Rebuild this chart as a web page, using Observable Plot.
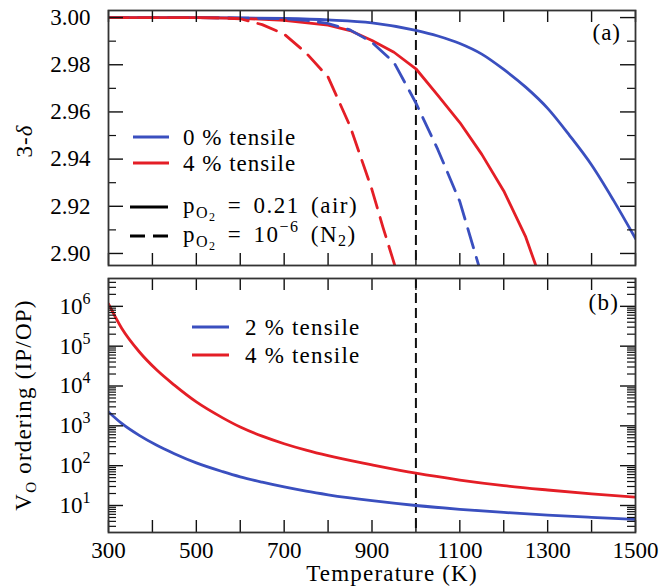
<!DOCTYPE html>
<html><head><meta charset="utf-8">
<script src="https://cdn.jsdelivr.net/npm/d3@7"></script>
<script src="https://cdn.jsdelivr.net/npm/@observablehq/plot@0.6"></script>
<style>
body{margin:0;background:#fff;}
#chart{position:relative;width:671px;height:587px;font-family:'Liberation Serif',serif;}
#chart svg{position:absolute;left:0;overflow:visible;}
</style></head><body><div id="chart"></div>
<script>
// ---------- Panel (a): 3-delta vs temperature ----------
const blueAirT = [300,400,500,600,700,800,900,1000,1050,1100,1150,1200,1250,1300,1350,1400,1450,1500];
const blueAirV = [3.0000,3.0000,3.0000,2.9999,2.9996,2.9990,2.9978,2.9946,2.9922,2.9890,2.9845,2.9780,2.9705,2.9615,2.9500,2.9375,2.9225,2.9063];
const blueN2T = [300,400,500,600,700,750,800,850,900,950,1000,1050,1100,1143];
const blueN2V = [3.0000,3.0000,3.0000,2.9998,2.9995,2.9988,2.9975,2.9948,2.9895,2.9810,2.9638,2.9440,2.9220,2.8949];
const redAirT = [300,400,500,600,700,800,850,900,950,1000,1050,1100,1150,1200,1250,1273];
const redAirV = [3.0000,3.0000,3.0000,2.9997,2.9988,2.9968,2.9945,2.9903,2.9853,2.9783,2.9670,2.9555,2.9420,2.9265,2.9070,2.8949];
const redN2T = [300,400,500,550,600,650,700,750,800,850,900,925,952];
const redN2V = [3.0000,3.0000,3.0000,2.9999,2.9995,2.9970,2.9930,2.9850,2.9748,2.9540,2.9270,2.9111,2.8949];

// ---------- Panel (b): VO ordering (IP/OP) vs temperature ----------
const ordT = [300,330,370,410,450,500,560,600,650,700,750,800,900,1000,1100,1200,1300,1400,1500];
const ord2 = [2239,1148,575,324,200,117.5,70.8,52.5,38.5,29.2,22.9,18.6,13.2,10.0,8.04,6.71,5.75,5.05,4.50];
const ord4 = [1148000,282000,72400,25100,10500,3980,1585,933,550,355,245,178,105,64.6,43.6,31.6,24.5,19.5,16.2];

// ---------- ticks ----------
const xTicks = [300,400,500,600,700,800,900,1000,1100,1200,1300,1400,1500];
const xLabels = [300,500,700,900,1100,1300,1500];
const yMajorA = [2.90,2.92,2.94,2.96,2.98,3.00];
const yMinorA = [2.91,2.93,2.95,2.97,2.99];
const yDecades = [1e1,1e2,1e3,1e4,1e5,1e6];
const yMinorB = [];
for (let e = 0; e <= 6; e++) for (let m = 2; m <= 9; m++) { const v = m * 10 ** e; if (v > 2.1 && v < 5e6) yMinorB.push(v); }
const markerT = [1000];

const BLUE = "#3a4fbf", RED = "#e41e26", INK = "#111";
const FONT = "'Liberation Serif', serif";
const W = 671, ML = 108, MR = 36, PW = W - ML - MR;
const toRows = (T, V) => T.map((t, i) => ({T: t, v: V[i]}));

function ticksY(major, minor, ph) {
  return [
    Plot.tickY(major, {y: d => d, insetRight: PW - 15, stroke: INK, strokeWidth: 1.4}),
    Plot.tickY(major, {y: d => d, insetLeft: PW - 15, stroke: INK, strokeWidth: 1.4}),
    Plot.tickY(minor, {y: d => d, insetRight: PW - 8, stroke: INK, strokeWidth: 1.2}),
    Plot.tickY(minor, {y: d => d, insetLeft: PW - 8, stroke: INK, strokeWidth: 1.2}),
    Plot.tickX(xTicks, {x: d => d, insetTop: ph - 12, stroke: INK, strokeWidth: 1.4}),
    Plot.tickX(xTicks, {x: d => d, insetBottom: ph - 12, stroke: INK, strokeWidth: 1.4})
  ];
}

const HA = 272, MTA = 10, MBA = 7;
const plotA = Plot.plot({
  width: W, height: HA, marginTop: MTA, marginBottom: MBA, marginLeft: ML, marginRight: MR,
  style: {fontFamily: FONT, fontSize: "23px", color: "#000", background: "transparent"},
  x: {domain: [300, 1500], axis: null},
  y: {domain: [2.8949, 3.003]},
  marks: [
    Plot.ruleX(markerT, {x: d => d, stroke: INK, strokeWidth: 2, strokeDasharray: "10,5"}),
    Plot.line(toRows(blueAirT, blueAirV), {x: "T", y: "v", stroke: BLUE, strokeWidth: 2.8, curve: "monotone-x", clip: true}),
    Plot.line(toRows(redAirT, redAirV), {x: "T", y: "v", stroke: RED, strokeWidth: 2.8, clip: true}),
    Plot.line(toRows(blueN2T, blueN2V), {x: "T", y: "v", stroke: BLUE, strokeWidth: 2.8, strokeDasharray: "20,10", clip: true}),
    Plot.line(toRows(redN2T, redN2V), {x: "T", y: "v", stroke: RED, strokeWidth: 2.8, strokeDasharray: "20,10", clip: true}),
    ...ticksY(yMajorA, yMinorA, HA - MTA - MBA),
    Plot.axisY(yMajorA, {tickSize: 0, tickPadding: 18, tickFormat: d => d.toFixed(2), label: null}),
    Plot.frame({stroke: "#333", strokeWidth: 1.8})
  ]
});

const HB = 317, MTB = 8, MBB = 55;
const plotB = Plot.plot({
  width: W, height: HB, marginTop: MTB, marginBottom: MBB, marginLeft: ML, marginRight: MR,
  style: {fontFamily: FONT, fontSize: "23px", color: "#000", background: "transparent"},
  x: {domain: [300, 1500]},
  y: {type: "log", domain: [2.1, 5e6]},
  marks: [
    Plot.ruleX(markerT, {x: d => d, stroke: INK, strokeWidth: 2, strokeDasharray: "10,5"}),
    Plot.line(toRows(ordT, ord2), {x: "T", y: "v", stroke: BLUE, strokeWidth: 2.8, curve: "monotone-x", clip: true}),
    Plot.line(toRows(ordT, ord4), {x: "T", y: "v", stroke: RED, strokeWidth: 2.8, curve: "monotone-x", clip: true}),
    ...ticksY(yDecades, yMinorB, HB - MTB - MBB),
    Plot.axisY(yDecades, {tickSize: 0, tickPadding: 18, tickFormat: d => "10|" + Math.round(Math.log10(d)), label: null}),
    Plot.axisX(xLabels, {tickSize: 0, tickPadding: 9, tickFormat: d => String(d), label: null}),
    Plot.frame({stroke: "#333", strokeWidth: 1.8})
  ]
});

const chart = document.getElementById("chart");
plotA.style.top = "0px";
plotB.style.top = "270px";
chart.appendChild(plotA);
chart.appendChild(plotB);

// superscript exponents on log labels
d3.select(plotB).selectAll('g[aria-label="y-axis tick label"] text').each(function() {
  const t = d3.select(this); const s = t.text();
  if (!s.includes("|")) return;
  const [b, e] = s.split("|");
  t.text(b);
  t.append("tspan").attr("dy", -10).attr("font-size", 16).text(e);
});

// ---------- annotations (a) ----------
const ga = d3.select(plotA).append("g").attr("font-family", FONT).attr("font-size", 23)
  .attr("fill", "#000").attr("text-anchor", "start").attr("letter-spacing", "1px");
ga.append("text").attr("transform", "translate(32,141) rotate(-90)").attr("text-anchor", "middle")
  .call(t => { t.append("tspan").text("3-"); t.append("tspan").attr("font-style", "italic").text("δ"); });
ga.append("text").attr("x", 621).attr("y", 40).attr("text-anchor", "end").text("(a)");
const legA = [
  {y: 137, color: BLUE, label: "0 % tensile"},
  {y: 163, color: RED, label: "4 % tensile"}
];
legA.forEach(d => {
  ga.append("line").attr("x1", 133).attr("x2", 169).attr("y1", d.y).attr("y2", d.y).attr("stroke", d.color).attr("stroke-width", 3);
  ga.append("text").attr("x", 183).attr("y", d.y + 8).text(d.label);
});
ga.append("line").attr("x1", 130).attr("x2", 168).attr("y1", 207).attr("y2", 207).attr("stroke", "#000").attr("stroke-width", 3);
ga.append("line").attr("x1", 130).attr("x2", 168).attr("y1", 236).attr("y2", 236).attr("stroke", "#000").attr("stroke-width", 3).attr("stroke-dasharray", "15,8");
function pO2(y) {
  const t = ga.append("text").attr("x", 183).attr("y", y).attr("letter-spacing", "1.5px").attr("word-spacing", "4px");
  t.append("tspan").text("p");
  t.append("tspan").attr("dy", 5).attr("font-size", 16).text("O");
  t.append("tspan").attr("dy", 3).attr("font-size", 12).text("2");
  return t;
}
pO2(213).append("tspan").attr("dy", -8).text(" = 0.21 (air)");
const t2 = pO2(242);
t2.append("tspan").attr("dy", -8).text(" = 10");
t2.append("tspan").attr("dy", -10).attr("font-size", 16).text("−6");
t2.append("tspan").attr("dy", 10).text(" (N");
t2.append("tspan").attr("dy", 4).attr("font-size", 16).text("2");
t2.append("tspan").attr("dy", -4).text(")");

// ---------- annotations (b) ----------
const gb = d3.select(plotB).append("g").attr("font-family", FONT).attr("font-size", 23)
  .attr("fill", "#000").attr("text-anchor", "start").attr("letter-spacing", "1.2px");
gb.append("text").attr("transform", "translate(31,135) rotate(-90)").attr("text-anchor", "middle")
  .call(t => {
    t.append("tspan").text("V");
    t.append("tspan").attr("dy", 5).attr("font-size", 15).text("O");
    t.append("tspan").attr("dy", -5).text(" ordering (IP/OP)");
  });
gb.append("text").attr("x", 619).attr("y", 40).attr("text-anchor", "end").text("(b)");
gb.append("text").attr("x", 392).attr("y", 311).attr("text-anchor", "middle").text("Temperature (K)");
const legB = [
  {y: 57, color: BLUE, label: "2 % tensile"},
  {y: 85, color: RED, label: "4 % tensile"}
];
legB.forEach(d => {
  gb.append("line").attr("x1", 192).attr("x2", 229).attr("y1", d.y).attr("y2", d.y).attr("stroke", d.color).attr("stroke-width", 3);
  gb.append("text").attr("x", 245).attr("y", d.y + 8).text(d.label);
});
</script></body></html>
